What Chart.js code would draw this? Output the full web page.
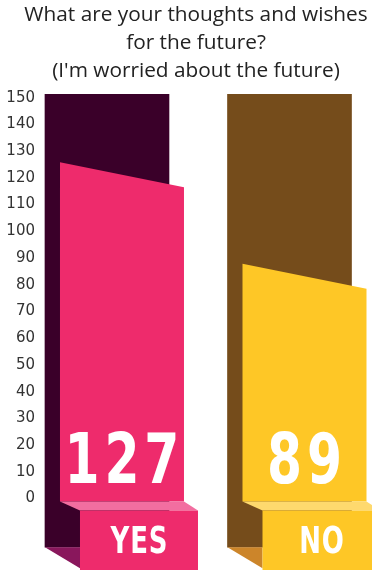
<!DOCTYPE html>
<html>
<head>
<meta charset="utf-8">
<script src="https://cdn.jsdelivr.net/npm/chart.js@4.4.0/dist/chart.umd.min.js"></script>
<style>
html, body { margin: 0; padding: 0; background: #fff; overflow: hidden; }
#wrap { width: 372px; height: 570px; overflow: hidden; }
canvas { display: block; }
</style>
</head>
<body>
<div id="wrap"><canvas id="futureChart" width="392" height="570"></canvas></div>
<script>
// survey answers
const answers = ['YES', 'NO'];
const counts = [127, 89];
const yTicks = [0, 10, 20, 30, 40, 50, 60, 70, 80, 90, 100, 110, 120, 130, 140, 150];
const titleLines = ['What are your thoughts and wishes', 'for the future?', "(I'm worried about the future)"];

// dark backdrop column range (in axis units)
const panelRange = [-18.2, 151.3];

const backColors = ['#3a0029', '#754c1b'];
const frontColors = ['#ee2b6c', '#fec726'];
const ledgeColors = ['#f26ea0', '#fed96e'];
const footColors = ['#89175c', '#cc852a'];

// condensed text, drawn one char at a time so the spacing can be set
function spacedText(ctx, str, cx, y, gap, squeeze) {
    const chars = [...str];
    const widths = chars.map(c => ctx.measureText(c).width);
    const total = widths.reduce((a, b) => a + b, 0) + gap * (chars.length - 1);
    ctx.save();
    ctx.translate(cx, y);
    ctx.scale(squeeze, 1);
    ctx.textAlign = 'left';
    let x = -total / 2;
    chars.forEach((c, k) => {
        ctx.fillText(c, x, 0);
        x += widths[k] + gap;
    });
    ctx.restore();
}

// front face, ledge, label box and foot of each column
const blockPlugin = {
    id: 'blocks',
    afterDatasetsDraw(chart) {
        const ctx = chart.ctx;
        const back = chart.getDatasetMeta(0).data;
        const front = chart.getDatasetMeta(1).data;
        ctx.save();
        front.forEach((bar, i) => {
            const panel = back[i];
            const pLeft = panel.x - panel.width / 2;
            const pBottom = panel.base;
            const left = bar.x - bar.width / 2 + 15;
            const right = bar.x + bar.width / 2 + 15;
            const top = bar.y + 3;
            const bottom = bar.base + 3;

            // foot
            ctx.fillStyle = footColors[i];
            ctx.beginPath();
            ctx.moveTo(pLeft, pBottom);
            ctx.lineTo(pLeft + 35, pBottom);
            ctx.lineTo(pLeft + 35, pBottom + 21);
            ctx.closePath();
            ctx.fill();

            // front face with sloped top
            ctx.fillStyle = frontColors[i];
            ctx.beginPath();
            ctx.moveTo(left, top);
            ctx.lineTo(right, top + 25);
            ctx.lineTo(right, bottom);
            ctx.lineTo(left, bottom);
            ctx.closePath();
            ctx.fill();

            // ledge
            ctx.fillStyle = ledgeColors[i];
            ctx.beginPath();
            ctx.moveTo(left, bottom);
            ctx.lineTo(right, bottom);
            ctx.lineTo(right + 14, bottom + 9);
            ctx.lineTo(left + 20, bottom + 9);
            ctx.closePath();
            ctx.fill();

            // label box
            ctx.fillStyle = frontColors[i];
            ctx.fillRect(left + 20, bottom + 9, right - left - 6, chart.height - bottom);

            ctx.fillStyle = '#fff';
            ctx.textBaseline = 'alphabetic';
            ctx.font = 'bold 70px "DejaVu Sans Condensed", "DejaVu Sans", sans-serif';
            spacedText(ctx, String(counts[i]), (left + right) / 2, bottom - 19, 6, 0.8);

            ctx.font = 'bold 38px "DejaVu Sans Condensed", "DejaVu Sans", sans-serif';
            spacedText(ctx, answers[i], (left + 20 + right + 14) / 2, bottom + 51, 1, 0.76);
        });
        ctx.restore();
    }
};

const ctx = document.getElementById('futureChart').getContext('2d');
const myChart = new Chart(ctx, {
    type: 'bar',
    data: {
        datasets: [{
            data: answers.map((a, i) => ({ x: i, y: panelRange })),
            backgroundColor: backColors,
            barThickness: 124,
            grouped: false
        }, {
            data: counts.map((v, i) => ({ x: i, y: v })),
            backgroundColor: 'rgba(0,0,0,0)',
            barThickness: 124,
            grouped: false
        }]
    },
    options: {
        responsive: false,
        animation: false,
        events: [],
        layout: { padding: 0, autoPadding: false },
        plugins: {
            legend: { display: false },
            tooltip: { enabled: false },
            title: {
                display: true,
                text: titleLines,
                color: '#222',
                font: { family: '"Open Sans", sans-serif', size: 20.8, weight: 'normal', lineHeight: 1.35 },
                padding: { top: 1, bottom: 8 }
            }
        },
        scales: {
            x: {
                type: 'linear',
                display: false,
                offset: false,
                min: -0.367,
                max: 1.5616
            },
            y: {
                min: -26.75,
                max: 151.68,
                grid: { display: false, drawTicks: false },
                border: { display: false },
                afterBuildTicks: function (scale) {
                    scale.ticks = yTicks.map(v => ({ value: v }));
                },
                afterFit: function (scale) {
                    scale.width = 40;
                    scale.paddingTop = 0;
                    scale.paddingBottom = 0;
                },
                ticks: {
                    color: '#333',
                    padding: 5,
                    autoSkip: false,
                    font: { family: '"DejaVu Sans", sans-serif', size: 15 }
                }
            }
        }
    },
    plugins: [blockPlugin]
});
</script>
</body>
</html>
